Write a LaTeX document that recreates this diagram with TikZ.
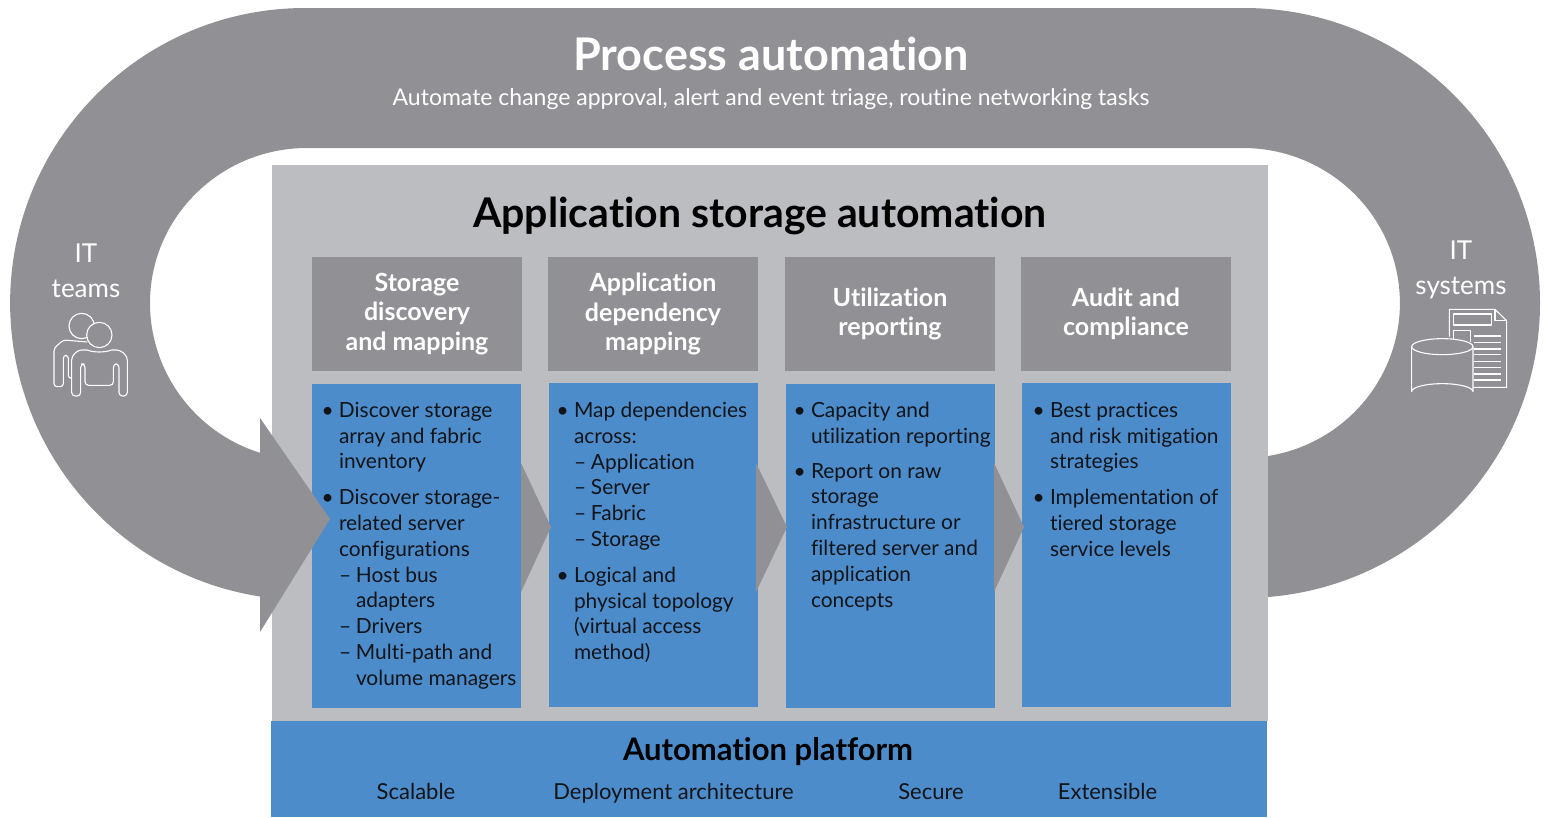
\documentclass[tikz,border=0pt]{standalone}
\usepackage{fontspec}
\setmainfont[Ligatures=NoCommon]{Lato}
\usetikzlibrary{positioning}
\definecolor{ringgray}{HTML}{919095}
\definecolor{panelgray}{HTML}{BCBDC0}
\definecolor{bodyblue}{HTML}{4D8CCB}
\definecolor{inkblack}{HTML}{111418}
\newcommand{\bl}{\makebox[16pt][l]{\hspace*{-1.5pt}•}}
\newcommand{\nb}{\hspace*{16pt}}
\newcommand{\ds}{\hspace*{16pt}\makebox[17pt][l]{–}}
\newcommand{\nd}{\hspace*{33pt}}
\newcommand{\fs}[2]{\fontsize{#1}{#2}\selectfont}
\tikzset{
  hdrbox/.style={fill=ringgray,minimum width=210pt,minimum height=114pt,inner sep=0pt,outer sep=0pt,
    text=white,align=center,font=\fs{25}{29.5}\bfseries},
  bodybox/.style={fill=bodyblue,minimum width=209pt,minimum height=324pt,inner sep=0pt,outer sep=0pt},
  bodytxt/.style={inner sep=0pt,outer sep=0pt,text=inkblack,align=left,font=\fs{20.9}{25.8}},
  chevron/.style={fill=ringgray},
  bartxt/.style={inner sep=0pt,anchor=base,text=inkblack,font=\fs{22}{28}},
  sidetxt/.style={inner sep=0pt,text=white,align=center,font=\fs{26}{35.5}},
  iconline/.style={draw=white,line width=1.1pt,line join=round}
}
\begin{document}
\begin{tikzpicture}[x=1pt,y=-1pt]
  \useasboundingbox (0,0) rectangle (1544,817);

  % ring
  \fill[ringgray] (260,596.5) arc[start angle=98.8,end angle=180,x radius=295,y radius=297]
    arc[start angle=180,end angle=270,x radius=295,y radius=295]
    -- (1244,8) arc[start angle=270,end angle=445.35,x radius=296,y radius=295]
    -- (1268,456) arc[start angle=80.8,end angle=-90,x radius=157,y radius=155]
    -- (307,148) arc[start angle=270,end angle=180,x radius=157,y radius=155]
    arc[start angle=180,end angle=107.4,x radius=157,y radius=157] -- cycle;

  % panel and platform
  \fill[panelgray] (272,165) rectangle (1268,721);
  \node (title) at (760,216) [inner sep=0pt,text=black,font=\fs{41}{50}\bfseries] {Application storage automation};
  \node (proc) at (771,54) [inner sep=0pt,text=white,font=\fs{45}{54}\bfseries] {Process automation};
  \node (procsub) at (771,99) [inner sep=0pt,text=white,font=\fs{23}{30}] {Automate change approval, alert and event triage, routine networking tasks};

  % headers
  \node (hdr1) at (417,315) [hdrbox,yshift=1pt] {Storage\\discovery\\and mapping};
  \node (hdr2) [hdrbox,right=26pt of hdr1] {Application\\dependency\\mapping};
  \node (hdr3) [hdrbox,right=27pt of hdr2] {Utilization\\reporting};
  \node (hdr4) [hdrbox,right=26pt of hdr3] {Audit and\\compliance};

  % bodies
  \node (body1) at (416.5,546) [bodybox] {};
  \node (body2) [bodybox,right=28pt of body1,yshift=1pt] {};
  \node (body3) [bodybox,right=28pt of body2,yshift=-1pt] {};
  \node (body4) [bodybox,right=27pt of body3,yshift=1pt] {};

  % chevrons between the bodies
  \fill[chevron] (521,463) -- (551,527) -- (521,592) -- cycle;
  \fill[chevron] (756,463) -- (787,527) -- (756,592) -- cycle;
  \fill[chevron] (994,463) -- (1024,527) -- (994,592) -- cycle;

  % big arrow head
  \fill[ringgray] (260,418) -- (330,519) -- (260,632) -- cycle;

  \node (txt1) [bodytxt,anchor=north west] at (323,402) {%
    \bl Discover storage\\\nb array and fabric\\\nb inventory\\[10pt]%
    \bl Discover storage-\\\nb related server\\\nb configurations\\%
    \ds Host bus\\\nd adapters\\\ds Drivers\\\ds Multi-path and\\\nd volume managers};
  \node (txt2) [bodytxt,anchor=north west] at (558,402) {%
    \bl Map dependencies\\\nb across:\\\ds Application\\\ds Server\\\ds Fabric\\\ds Storage\\[10pt]%
    \bl Logical and\\\nb physical topology\\\nb (virtual access\\\nb method)};
  \node (txt3) [bodytxt,anchor=north west] at (795,402) {%
    \bl Capacity and\\\nb utilization reporting\\[9pt]%
    \bl Report on raw\\\nb storage\\\nb infrastructure or\\\nb filtered server and\\\nb application\\\nb concepts};
  \node (txt4) [bodytxt,anchor=north west] at (1034,402) {%
    \bl Best practices\\\nb and risk mitigation\\\nb strategies\\[10pt]%
    \bl Implementation of\\\nb tiered storage\\\nb service levels};

  % platform
  \fill[bodyblue] (271,721) rectangle (1267,817);
  \node (plat) at (768,752) [inner sep=0pt,text=black,font=\fs{31}{38}\bfseries] {Automation platform};
  \node (scal) at (416,799) [bartxt] {Scalable};
  \node (depl) at (673.5,799) [bartxt] {Deployment architecture};
  \node (secu) at (931,799) [bartxt] {Secure};
  \node (exte) at (1107.5,799) [bartxt] {Extensible};

  % sides
  \node (teams) at (86,271) [sidetxt] {IT\\teams};
  \node (systems) at (1461,270) [sidetxt] {IT\\systems};

  % people icon
  \begin{scope}[shift={(0,200)},x=0.3333pt,y=-0.3333pt]
    \draw[iconline] (245,378) circle[radius=38];
    \draw[iconline,rounded corners=3pt] (262,426) -- (190,420) -- (162,445) -- (162,560) -- (190,560) -- (190,466) -- (205,466) -- (205,535) -- (215,535);
    \draw[iconline,fill=ringgray] (298,405) circle[radius=38];
    \draw[iconline,rounded corners=3.5pt] (262,450) -- (235,450) -- (215,470) -- (215,588) -- (242,588) -- (242,492) -- (255,492) -- (255,556) -- (340,556) -- (340,492) -- (357,492) -- (357,588) -- (382,588) -- (382,470) -- (360,450) -- (335,450);
    \draw[iconline] (262,450) .. controls (280,458) and (315,458) .. (335,450);
  \end{scope}

  % systems icon
  \begin{scope}[shift={(1250,200)},x=0.3333pt,y=-0.3333pt]
    \draw[iconline] (598,410) -- (598,328) -- (735,328) -- (770,362) -- (770,562) -- (670,562);
    \draw[iconline] (735,328) -- (735,362) -- (770,362);
    \draw[iconline] (610,342) rectangle (725,375);
    \draw[iconline] (610,420) -- (610,392) -- (662,392) -- (662,425);
    \foreach \ypos in {408,428,447,464,484,502,522,540}
      \draw[iconline] (672,\ypos) -- (752,\ypos);
    \draw[iconline,fill=ringgray] (485,440) -- (485,575) arc[start angle=180,end angle=360,x radius=92,y radius=24] -- (669,440);
    \draw[iconline,fill=ringgray] (577,440) ellipse[x radius=92,y radius=24];
  \end{scope}
\end{tikzpicture}
\end{document}
